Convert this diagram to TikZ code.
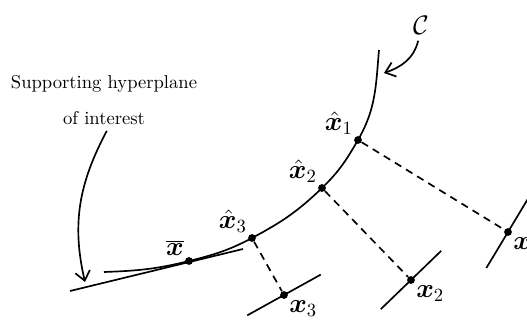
\documentclass[tikz,border=0pt]{standalone}
\usepackage{bm}
\usepackage{tikz}
\usetikzlibrary{arrows.meta, positioning, calc}

\begin{document}
\begin{tikzpicture}[
    x=0.0189cm, y=0.0189cm,
    curveline/.style={line width=0.9pt},
    projline/.style={line width=0.9pt, dash pattern=on 4pt off 3pt},
    dot/.style={circle, fill=black, inner sep=0pt, minimum size=4.2pt},
    lbl/.style={font=\Large, inner sep=1pt},
    pointer/.style={line width=0.9pt, -{Straight Barb[length=5pt,width=8pt]}}
]
\useasboundingbox (0,0) rectangle (527,324);
\clip (0,0) rectangle (527,324);
% points on the curve
\node[dot, label={[lbl]above left:$\overline{\bm{x}}$}] (xbar) at (189,63) {};
\foreach \i/\px/\py in {1/358/184, 2/322/136, 3/252/86} {
    \node[dot, label={[lbl]above left:$\hat{\bm{x}}_{\i}$}] (xh\i) at (\px,\py) {};
}
\coordinate (cstart) at (104,52);
\coordinate (cend) at (379,274);
\draw[curveline] (cstart) to[out=2,in=194] (xbar.center) to[out=14,in=208] (xh3.center)
    to[out=28,in=224] (xh2.center) to[out=44,in=240] (xh1.center) to[out=60,in=265] (cend);
% supporting hyperplane at xbar
\coordinate (tleft) at (70,33);
\coordinate (tright) at (243,75);
\draw[curveline] (tleft) -- (tright);
% projected points and their hyperplanes
\foreach \i/\px/\py/\a in {1/508/92/59, 2/411/44/44, 3/284/29/29} {
    \node[dot, label={[lbl]below right:$\bm{x}_{\i}$}] (x\i) at (\px,\py) {};
    \draw[curveline] (x\i.center) ++(\a+180:42) -- ++(\a:84);
    \draw[projline] (xh\i) -- (x\i);
}
% labels
\node[align=center] (hyp) at (104,224) {Supporting hyperplane\\[7pt] of interest};
\coordinate (hyptip) at (85,42);
\draw[pointer] ([xshift=1.5pt]hyp.south) to[out=-118,in=103] (hyptip);
\node[font=\Large] (cname) at (421,299) {$\mathcal{C}$};
\coordinate (ctip) at (384,251);
\draw[pointer] ([xshift=-1.5pt]cname.south) to[out=-104,in=19] (ctip);
\end{tikzpicture}
\end{document}
